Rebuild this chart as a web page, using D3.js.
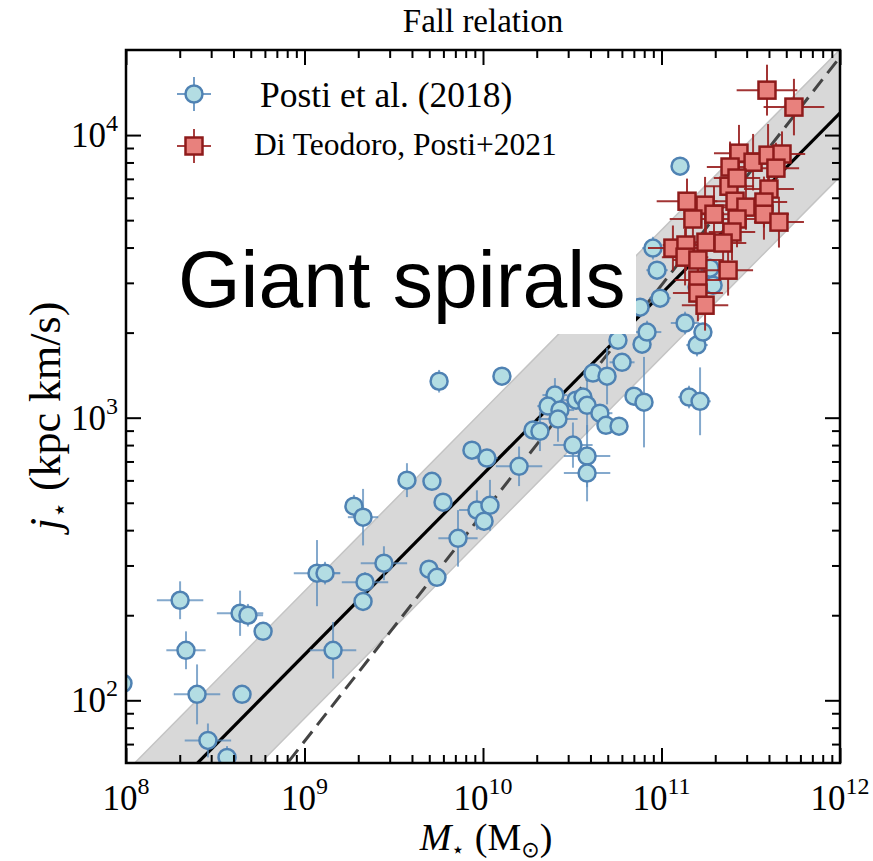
<!DOCTYPE html>
<html>
<head>
<meta charset="utf-8">
<script src="https://cdn.jsdelivr.net/npm/d3@7"></script>
<style>
  body { margin: 0; background: #fff; }
  svg { display: block; }
  text { font-family: "Liberation Serif", "Times New Roman", serif; fill: #000; }
</style>
</head>
<body>
<svg id="chart"></svg>
<script>
// Posti et al. (2018) - log10 of M* (Msun) and j* (kpc km/s), with errors in dex
const postiLogM = [7.983, 8.303, 8.336, 8.398, 8.459, 8.566, 8.639, 8.683, 8.768, 8.650,
  9.070, 9.115, 9.160, 9.277, 9.328, 9.445, 9.339, 9.328, 9.574, 9.714,
  9.776, 9.938, 10.022, 9.966, 10.039, 10.006, 9.860, 9.697, 9.742, 10.202,
  10.280, 10.319, 10.403, 10.364, 10.431, 10.420, 10.521, 10.560, 10.583, 10.655,
  10.689, 10.762, 10.504, 10.583, 10.583, 10.616, 10.695, 10.779, 10.756, 10.891,
  10.846, 10.902, 9.754, 10.106, 11.104, 10.952, 10.975, 10.992, 10.919, 11.132,
  11.199, 11.232, 11.289, 11.272, 11.154, 11.216, 10.880, 11.199];
const postiLogJ = [2.060, 2.354, 2.177, 2.021, 1.858, 1.798, 2.308, 2.301, 2.244, 2.021,
  2.450, 2.450, 2.177, 2.687, 2.648, 2.485, 2.418, 2.350, 2.779, 2.775,
  2.701, 2.885, 2.857, 2.673, 2.690, 2.634, 2.573, 2.464, 2.435, 2.828,
  2.956, 2.952, 3.080, 3.041, 3.027, 2.995, 3.062, 3.073, 3.044, 3.016,
  2.973, 2.970, 2.903, 2.864, 2.804, 3.158, 3.147, 3.196, 3.274, 3.260,
  3.076, 3.055, 3.129, 3.147, 3.890, 3.600, 3.522, 3.423, 3.303, 3.335,
  3.257, 3.303, 3.469, 3.529, 3.073, 3.058, 3.391, 3.462];
const postiErrM = [0.04, 0.13, 0.11, 0.13, 0.13, 0.03, 0.13, 0.085, 0.03, 0.03,
  0.13, 0.085, 0.13, 0.04, 0.085, 0.13, 0.13, 0.03, 0.03, 0.03,
  0.03, 0.03, 0.06, 0.10, 0.03, 0.03, 0.11, 0.03, 0.03, 0.13,
  0.03, 0.03, 0.07, 0.06, 0.08, 0.11, 0.08, 0.04, 0.05, 0.07,
  0.03, 0.03, 0.11, 0.13, 0.13, 0.03, 0.03, 0.07, 0.03, 0.03,
  0.03, 0.03, 0.03, 0.03, 0.03, 0.06, 0.06, 0.06, 0.08, 0.08,
  0.06, 0.05, 0.05, 0.05, 0.06, 0.06, 0.05, 0.05];
const postiErrJ = [0.02, 0.067, 0.067, 0.106, 0.06, 0.04, 0.08, 0.04, 0.02, 0.02,
  0.117, 0.04, 0.10, 0.04, 0.10, 0.06, 0.035, 0.02, 0.06, 0.02,
  0.03, 0.02, 0.02, 0.07, 0.09, 0.035, 0.10, 0.02, 0.02, 0.07,
  0.02, 0.07, 0.06, 0.03, 0.03, 0.08, 0.03, 0.02, 0.10, 0.03,
  0.03, 0.02, 0.08, 0.11, 0.10, 0.02, 0.10, 0.03, 0.02, 0.02,
  0.02, 0.16, 0.04, 0.02, 0.02, 0.04, 0.03, 0.03, 0.04, 0.04,
  0.04, 0.03, 0.03, 0.03, 0.04, 0.12, 0.03, 0.03];

// Di Teodoro, Posti+2021
const dtLogM = [11.591, 11.742, 11.434, 11.513, 11.597, 11.675, 11.384, 11.641, 11.378, 11.602,
  11.143, 11.244, 11.294, 11.412, 11.473, 11.574, 11.574, 11.176, 11.423, 11.658,
  11.395, 11.249, 11.345, 11.064, 11.137, 11.132, 11.204, 11.373, 11.204, 11.204,
  11.244, 11.423];
const dtLogJ = [4.159, 4.099, 3.936, 3.904, 3.929, 3.933, 3.887, 3.883, 3.819, 3.809,
  3.766, 3.752, 3.720, 3.766, 3.745, 3.763, 3.720, 3.703, 3.703, 3.692,
  3.657, 3.621, 3.618, 3.600, 3.611, 3.568, 3.558, 3.522, 3.487, 3.441,
  3.398, 3.848];
const dtErrM = [0.17, 0.17, 0.14, 0.13, 0.12, 0.13, 0.13, 0.13, 0.14, 0.14,
  0.17, 0.15, 0.13, 0.14, 0.15, 0.13, 0.14, 0.13, 0.13, 0.14,
  0.13, 0.14, 0.13, 0.14, 0.13, 0.13, 0.14, 0.14, 0.13, 0.14,
  0.13, 0.13];
const dtErrJ = [0.09, 0.10, 0.10, 0.10, 0.11, 0.08, 0.09, 0.09, 0.08, 0.08,
  0.08, 0.10, 0.10, 0.12, 0.08, 0.09, 0.09, 0.08, 0.10, 0.09,
  0.10, 0.09, 0.11, 0.08, 0.09, 0.10, 0.09, 0.09, 0.10, 0.10,
  0.09, 0.10];

// Fall relation fit (solid) and comparison line (dashed): log j = norm + slope*(log M - 11)
const fallSlope = 0.639, fallNorm = 3.439, fallScatter = 0.225;
const dashSlope = 0.807, dashNorm = 3.469;

const xTickExp = [8, 9, 10, 11, 12];
const yTickExp = [2, 3, 4];

const width = 873;
const height = 861;
const plotL = 126, plotR = 840, plotT = 50, plotB = 763;

const svg = d3.select("#chart").attr("width", width).attr("height", height);

const x = d3.scaleLog().domain([1e8, 1e12]).range([plotL, plotR]);
const y = d3.scaleLog().domain([60, 2e4]).range([plotB, plotT]);
const p10 = v => Math.pow(10, v);

svg.append("defs").append("clipPath").attr("id", "plotClip")
  .append("rect").attr("x", plotL).attr("y", plotT).attr("width", plotR - plotL).attr("height", plotB - plotT);

const plot = svg.append("g").attr("clip-path", "url(#plotClip)");

const lineM = [7.8, 12.2];
// Scatter band
plot.append("path")
  .datum(lineM)
  .attr("d", d3.area()
    .x(m => x(p10(m)))
    .y0(m => y(p10(fallNorm + fallSlope * (m - 11) - fallScatter)))
    .y1(m => y(p10(fallNorm + fallSlope * (m - 11) + fallScatter))))
  .attr("fill", "#d8d8d8")
  .attr("stroke", "#c4c4c4")
  .attr("stroke-width", 1.5);

plot.append("path")
  .datum(lineM)
  .attr("d", d3.line().x(m => x(p10(m))).y(m => y(p10(dashNorm + dashSlope * (m - 11)))))
  .attr("fill", "none")
  .attr("stroke", "#444")
  .attr("stroke-width", 3)
  .attr("stroke-dasharray", "15,8");

plot.append("path")
  .datum(lineM)
  .attr("d", d3.line().x(m => x(p10(m))).y(m => y(p10(fallNorm + fallSlope * (m - 11)))))
  .attr("fill", "none")
  .attr("stroke", "#000")
  .attr("stroke-width", 3.2);

// Posti 2018 points
const posti = postiLogM.map((m, i) => ({ m, j: postiLogJ[i], em: postiErrM[i], ej: postiErrJ[i] }));
const dt = dtLogM.map((m, i) => ({ m, j: dtLogJ[i], em: dtErrM[i], ej: dtErrJ[i] }));

function errorBars(g, data, color, opacity) {
  g.selectAll("line.ex").data(data).join("line").attr("class", "ex")
    .attr("x1", d => x(p10(d.m - d.em))).attr("x2", d => x(p10(d.m + d.em)))
    .attr("y1", d => y(p10(d.j))).attr("y2", d => y(p10(d.j)))
    .attr("stroke", color).attr("stroke-width", 2).attr("opacity", opacity);
  g.selectAll("line.ey").data(data).join("line").attr("class", "ey")
    .attr("x1", d => x(p10(d.m))).attr("x2", d => x(p10(d.m)))
    .attr("y1", d => y(p10(d.j - d.ej))).attr("y2", d => y(p10(d.j + d.ej)))
    .attr("stroke", color).attr("stroke-width", 2).attr("opacity", opacity);
}

const blueFill = "#b3dde3", blueEdge = "#4f82b3", blueErr = "#5b8dbd";
const redFill = "#e8817d", redEdge = "#8e1b1b", redErr = "#991f1f";

const gBlue = plot.append("g");
errorBars(gBlue, posti, blueErr, 0.75);
gBlue.selectAll("circle").data(posti).join("circle")
  .attr("cx", d => x(p10(d.m))).attr("cy", d => y(p10(d.j))).attr("r", 8.5)
  .attr("fill", blueFill).attr("stroke", blueEdge).attr("stroke-width", 2.5);

const gRed = plot.append("g");
errorBars(gRed, dt, redErr, 0.9);
gRed.selectAll("rect").data(dt).join("rect")
  .attr("x", d => x(p10(d.m)) - 8.5).attr("y", d => y(p10(d.j)) - 8.5)
  .attr("width", 17).attr("height", 17)
  .attr("fill", redFill).attr("stroke", redEdge).attr("stroke-width", 2.5);

// ticks, inward on all four sides
const xMinor = [], yMinor = [];
for (let e = 8; e < 12; e++) for (let k = 2; k <= 9; k++) xMinor.push(k * p10(e));
for (let e = 1; e < 5; e++) for (let k = 2; k <= 9; k++) {
  const v = k * p10(e);
  if (v > 60 && v < 2e4) yMinor.push(v);
}
const xMajor = xTickExp.map(p10), yMajor = yTickExp.map(p10);

function tickGroup(axis, tx, ty) {
  const g = svg.append("g").attr("transform", `translate(${tx},${ty})`).call(axis);
  g.select(".domain").remove();
  g.selectAll("line").attr("stroke", "#000").attr("stroke-width", 2);
  return g;
}
tickGroup(d3.axisBottom(x).tickValues(xMajor).tickSize(-15).tickFormat(""), 0, plotB);
tickGroup(d3.axisBottom(x).tickValues(xMinor).tickSize(-8).tickFormat(""), 0, plotB);
tickGroup(d3.axisTop(x).tickValues(xMajor).tickSize(-15).tickFormat(""), 0, plotT);
tickGroup(d3.axisTop(x).tickValues(xMinor).tickSize(-8).tickFormat(""), 0, plotT);
tickGroup(d3.axisLeft(y).tickValues(yMajor).tickSize(-15).tickFormat(""), plotL, 0);
tickGroup(d3.axisLeft(y).tickValues(yMinor).tickSize(-8).tickFormat(""), plotL, 0);
tickGroup(d3.axisRight(y).tickValues(yMajor).tickSize(-15).tickFormat(""), plotR, 0);
tickGroup(d3.axisRight(y).tickValues(yMinor).tickSize(-8).tickFormat(""), plotR, 0);

svg.append("rect").attr("x", plotL).attr("y", plotT).attr("width", plotR - plotL).attr("height", plotB - plotT)
  .attr("fill", "none").attr("stroke", "#000").attr("stroke-width", 2.5);

// tick labels
xTickExp.forEach(e => {
  const t = svg.append("text").attr("x", x(p10(e))).attr("y", 810).attr("text-anchor", "middle");
  t.append("tspan").attr("font-size", 35).text("10");
  t.append("tspan").attr("font-size", 24).attr("dy", -16).text(e);
});
yTickExp.forEach(e => {
  const t = svg.append("text").attr("x", 118).attr("y", y(p10(e)) + 12).attr("text-anchor", "end");
  t.append("tspan").attr("font-size", 35).text("10");
  t.append("tspan").attr("font-size", 24).attr("dy", -16).text(e);
});

// axis titles
const xt = svg.append("text").attr("x", 486).attr("y", 850).attr("text-anchor", "middle").attr("font-size", 38);
xt.append("tspan").attr("font-style", "italic").text("M");
xt.append("tspan").attr("font-size", 22).attr("dy", 7).text("\u22C6");
xt.append("tspan").attr("dy", -7).text(" (M");
xt.append("tspan").attr("font-size", 22).attr("dy", 7).attr("font-family", "DejaVu Sans").text("\u2299");
xt.append("tspan").attr("dy", -7).text(")");

const yt = svg.append("text").attr("transform", "translate(60,416) rotate(-90)")
  .attr("text-anchor", "middle").attr("font-size", 44);
yt.append("tspan").attr("font-style", "italic").text("j");
yt.append("tspan").attr("font-size", 26).attr("dy", 8).text("\u22C6");
yt.append("tspan").attr("dy", -8).text(" (kpc km/s)");

svg.append("text").attr("x", 483).attr("y", 32).attr("text-anchor", "middle").attr("font-size", 33)
  .text("Fall relation");

// legend
const lg = svg.append("g");
const legendItems = [
  { label: "Posti et al. (2018)", cy: 94, ty: 107, size: 35.5, tx: 260, shape: "circle" },
  { label: "Di Teodoro, Posti+2021", cy: 146, ty: 155, size: 31.5, tx: 254, shape: "square" }
];
legendItems.forEach(it => {
  const c = it.shape === "circle" ? blueErr : redErr;
  lg.append("line").attr("x1", 177).attr("x2", 211).attr("y1", it.cy).attr("y2", it.cy).attr("stroke", c).attr("stroke-width", 2).attr("opacity", 0.85);
  lg.append("line").attr("x1", 194).attr("x2", 194).attr("y1", it.cy - 17).attr("y2", it.cy + 17).attr("stroke", c).attr("stroke-width", 2).attr("opacity", 0.85);
  if (it.shape === "circle") {
    lg.append("circle").attr("cx", 194).attr("cy", it.cy).attr("r", 8.5)
      .attr("fill", blueFill).attr("stroke", blueEdge).attr("stroke-width", 2.5);
  } else {
    lg.append("rect").attr("x", 185.5).attr("y", it.cy - 8.5).attr("width", 17).attr("height", 17)
      .attr("fill", redFill).attr("stroke", redEdge).attr("stroke-width", 2.5);
  }
  lg.append("text").attr("x", it.tx).attr("y", it.ty).attr("font-size", it.size).text(it.label);
});

// overlay annotation box
svg.append("rect").attr("x", 160).attr("y", 228).attr("width", 476).attr("height", 106).attr("fill", "#fff");
svg.append("text").attr("x", 178).attr("y", 307).attr("font-size", 80.5)
  .style("font-family", "'Liberation Sans', Arial, Helvetica, sans-serif")
  .text("Giant spirals");
</script>
</body>
</html>
